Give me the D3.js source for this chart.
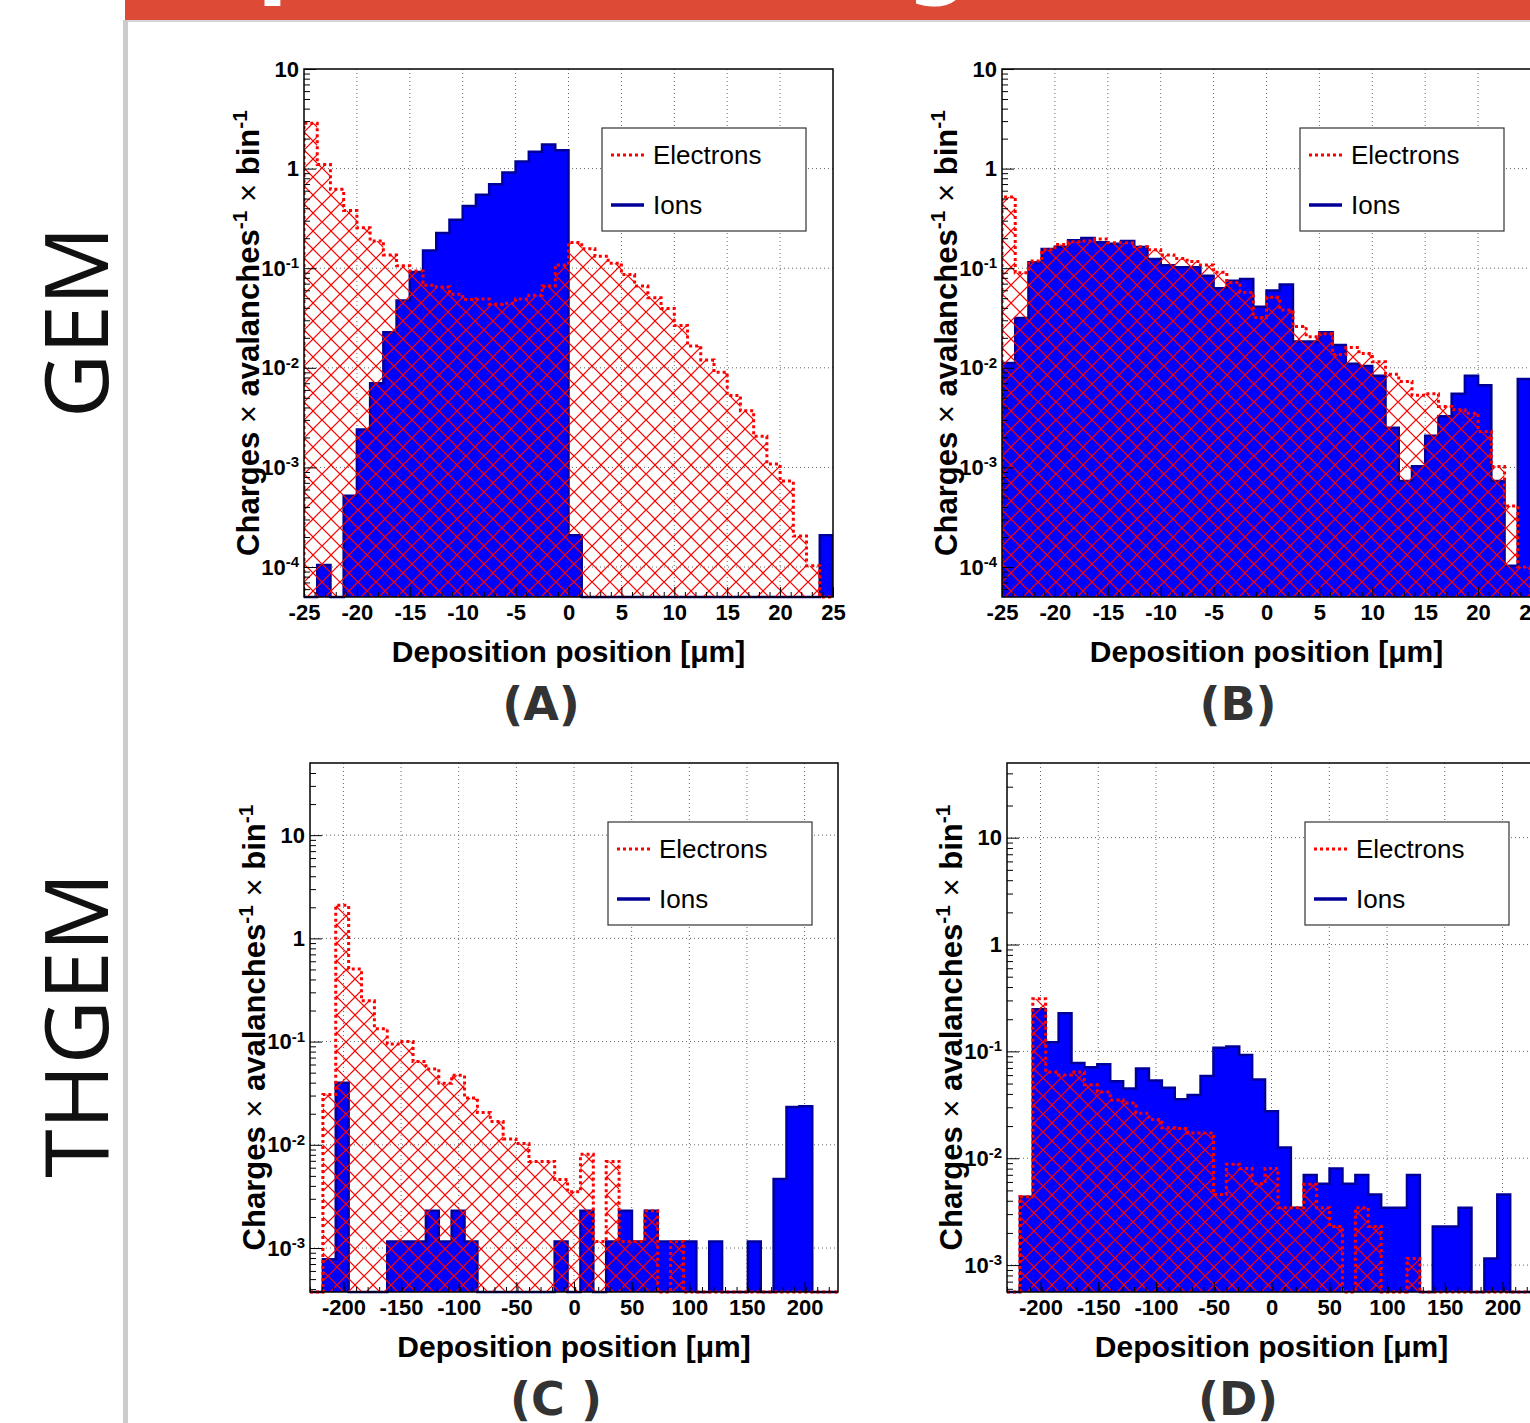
<!DOCTYPE html>
<html>
<head>
<meta charset="utf-8">
<script src="https://cdn.jsdelivr.net/npm/d3@7"></script>
<style>
  body { margin: 0; background: #fff; }
  svg { display: block; }
</style>
</head>
<body>
<div id="chart"></div>
<script>
// axis ranges and ticks
const gemRange = [-25, 25];
const thgemRange = [-229, 229];
const gemXTicks = [-25, -20, -15, -10, -5, 0, 5, 10, 15, 20, 25];
const thgemXTicks = [-200, -150, -100, -50, 0, 50, 100, 150, 200];
const gemYRange = [5e-5, 10];
const thgemCYRange = [3.75e-4, 50];
const thgemDYRange = [5.6e-4, 50];
const gemDecades = [-4, -3, -2, -1, 0, 1];
const thgemDecades = [-3, -2, -1, 0, 1];
const legendLabels = ["Electrons", "Ions"];

// (A) GEM, 40 bins
const ionsA = [0, 1.05e-4, 0, 5.2e-4, 2.4e-3, 7.0e-3, 0.0228, 0.0473, 0.0914, 0.151,
  0.226, 0.306, 0.422, 0.545, 0.697, 0.914, 1.18, 1.48, 1.75, 1.53,
  2.08e-4, 0, 0, 0, 0, 0, 0, 0, 0, 0,
  0, 0, 0, 0, 0, 0, 0, 0, 0, 2.08e-4];
const electronsA = [2.85, 1.10, 0.62, 0.379, 0.255, 0.188, 0.136, 0.106, 0.0936, 0.0674,
  0.0647, 0.0549, 0.0485, 0.0492, 0.0435, 0.0446, 0.0492, 0.0536, 0.0663, 0.1077,
  0.181, 0.157, 0.132, 0.112, 0.0863, 0.0663, 0.0506, 0.0395, 0.0266, 0.0166,
  0.012, 0.009, 0.00526, 0.0037, 0.00205, 0.00108, 7.3e-4, 2.05e-4, 1.03e-4, 0];

// (B) GEM, 40 bins
const ionsB = [0.0112, 0.0316, 0.115, 0.156, 0.164, 0.191, 0.201, 0.182, 0.176, 0.188,
  0.163, 0.124, 0.107, 0.102, 0.102, 0.084, 0.063, 0.075, 0.078, 0.041,
  0.0596, 0.0685, 0.0184, 0.0184, 0.0228, 0.0169, 0.011, 0.0104, 0.0083, 0.0025,
  7.3e-4, 1.03e-3, 2.08e-3, 3.27e-3, 5.5e-3, 8.3e-3, 6.7e-3, 7.3e-4, 1.03e-4, 7.7e-3];
const electronsB = [0.518, 0.09, 0.118, 0.153, 0.173, 0.184, 0.188, 0.196, 0.18, 0.18,
  0.164, 0.153, 0.136, 0.125, 0.117, 0.108, 0.091, 0.072, 0.057, 0.032,
  0.051, 0.038, 0.026, 0.0205, 0.022, 0.0136, 0.016, 0.0139, 0.0115, 0.0086,
  0.0073, 0.0053, 0.0055, 0.0041, 0.0038, 0.0035, 0.0023, 0.00102, 4.1e-4, 1.0e-4];

// (C) THGEM, 41 bins
const ionsC = [0, 7.8e-4, 0.04, 0, 0, 0, 0.00116, 0.00116, 0.00116, 0.0023,
  0.00116, 0.0023, 0.00116, 0, 0, 0, 0, 0, 0, 0.00116,
  0, 0.0023, 0, 0.00116, 0.0023, 0.00116, 0.0023, 0.00116, 0.00116, 0.00116,
  0, 0.00116, 0, 0, 0.00116, 0, 0.00467, 0.0232, 0.0236, 0, 0];
const electronsC = [0, 0.0308, 2.09, 0.506, 0.248, 0.133, 0.095, 0.1, 0.064, 0.0544,
  0.0394, 0.0471, 0.0284, 0.0206, 0.0168, 0.0114, 0.0103, 0.0069, 0.0069, 0.0046,
  0.0035, 0.0081, 0.00116, 0.0069, 0.00116, 0.00116, 0.0023, 0, 0.00116, 0,
  0, 0, 0, 0, 0, 0, 0, 0, 0, 0, 0];

// (D) THGEM, 41 bins
const ionsD = [0, 4.35e-3, 0.248, 0.122, 0.228, 0.078, 0.071, 0.076, 0.0526, 0.045,
  0.069, 0.0534, 0.0457, 0.0356, 0.039, 0.0588, 0.108, 0.111, 0.0925, 0.0547,
  0.0275, 0.0126, 3.44e-3, 6.98e-3, 5.78e-3, 8.03e-3, 5.78e-3, 6.98e-3, 4.57e-3, 3.44e-3,
  3.44e-3, 6.98e-3, 0, 2.3e-3, 2.3e-3, 3.44e-3, 0, 1.15e-3, 4.57e-3, 0, 0];
const electronsD = [0, 4.35e-3, 0.311, 0.064, 0.060, 0.064, 0.0486, 0.0416, 0.035, 0.0329,
  0.0264, 0.0231, 0.0193, 0.019, 0.0172, 0.0172, 4.57e-3, 8.8e-3, 8.0e-3, 5.78e-3,
  8.0e-3, 3.44e-3, 3.44e-3, 5.7e-3, 3.44e-3, 2.3e-3, 0, 3.44e-3, 2.3e-3, 0,
  0, 1.15e-3, 0, 0, 0, 0, 0, 0, 0, 0, 0];

const W = 1530, H = 1423;
const FONT = "'Liberation Sans', Arial, Helvetica, sans-serif";

const svg = d3.select("#chart").append("svg")
  .attr("width", W)
  .attr("height", H);

// cross hatch: diamond through the tile's edge midpoints, so it tiles without corner gaps
const defs = svg.append("defs");
defs.append("pattern")
  .attr("id", "hatch")
  .attr("patternUnits", "userSpaceOnUse")
  .attr("width", 18)
  .attr("height", 18)
  .append("path")
  .attr("d", "M0,9L9,18M9,0L18,9M0,9L9,0M9,18L18,9")
  .attr("stroke", "#ff0000")
  .attr("stroke-width", 1.2)
  .attr("fill", "none");

// slide decoration: red title band and grey border
svg.append("rect").attr("x", 125).attr("y", 0).attr("width", W - 125).attr("height", 20).attr("fill", "#dd4b36");
svg.append("rect").attr("x", 125).attr("y", 20).attr("width", W - 125).attr("height", 2).attr("fill", "#d4d4d8");
svg.append("rect").attr("x", 123).attr("y", 20).attr("width", 5).attr("height", H - 20).attr("fill", "#cccccc");
// descenders of the (cropped) slide title
svg.append("text").attr("x", 257).attr("y", -13).text("p")
  .style("font-family", "'DejaVu Sans'").style("font-weight", "bold").style("font-size", "90px").attr("fill", "#fff");
svg.append("text").attr("x", 906).attr("y", -13).text("g")
  .style("font-family", "'DejaVu Sans'").style("font-weight", "bold").style("font-size", "90px").attr("fill", "#fff");

// row labels
[["GEM", 322], ["THGEM", 1025]].forEach(([t, cy]) => {
  svg.append("text")
    .attr("transform", `translate(108, ${cy}) rotate(-90)`)
    .attr("text-anchor", "middle")
    .style("font-family", "'Open Sans', sans-serif")
    .style("font-size", "88px")
    .attr("fill", "#111")
    .text(t);
});

const panels = [
  { x: 304, y: 69, w: 529, h: 528, xr: gemRange, yr: gemYRange, xt: gemXTicks, minor: 1, dec: gemDecades,
    ions: ionsA, el: electronsA, label: "(A)", lx: 541, ly: 720 },
  { x: 1002, y: 69, w: 529, h: 528, xr: gemRange, yr: gemYRange, xt: gemXTicks, minor: 1, dec: gemDecades,
    ions: ionsB, el: electronsB, label: "(B)", lx: 1238, ly: 720 },
  { x: 310, y: 763, w: 528, h: 529, xr: thgemRange, yr: thgemCYRange, xt: thgemXTicks, minor: 10, dec: thgemDecades,
    ions: ionsC, el: electronsC, label: "(C )", lx: 556, ly: 1415 },
  { x: 1007, y: 763, w: 529, h: 529, xr: thgemRange, yr: thgemDYRange, xt: thgemXTicks, minor: 10, dec: thgemDecades,
    ions: ionsD, el: electronsD, label: "(D)", lx: 1238, ly: 1415 }
];

const stepPath = (vals, x, y, edges, close) => {
  const base = y.range()[0];
  let p = `M${x(edges[0])},${base}`;
  vals.forEach((v, i) => {
    const yy = v > 0 ? y(v) : base;
    p += `L${x(edges[i])},${yy}L${x(edges[i + 1])},${yy}`;
  });
  p += `L${x(edges[vals.length])},${base}`;
  return close ? p + "Z" : p;
};

panels.forEach((p, pi) => {
  const g = svg.append("g").attr("transform", `translate(${p.x},${p.y})`);
  const x = d3.scaleLinear().domain(p.xr).range([0, p.w]);
  const y = d3.scaleLog().domain(p.yr).range([p.h, 0]);
  const n = p.ions.length;
  const edges = d3.range(n + 1).map(i => p.xr[0] + i * (p.xr[1] - p.xr[0]) / n);

  defs.append("clipPath").attr("id", "clip" + pi)
    .append("rect").attr("x", 0).attr("y", 0).attr("width", p.w).attr("height", p.h + 2);

  // grid
  const decVals = p.dec.map(d => Math.pow(10, d));
  const grid = g.append("g").attr("stroke", "#666").attr("stroke-width", 1).attr("stroke-dasharray", "1,3");
  grid.selectAll(".gx").data(p.xt.filter(t => t > p.xr[0] && t < p.xr[1])).enter().append("line")
    .attr("x1", d => x(d)).attr("x2", d => x(d)).attr("y1", 0).attr("y2", p.h);
  grid.selectAll(".gy").data(decVals.filter(v => v < p.yr[1])).enter().append("line")
    .attr("x1", 0).attr("x2", p.w).attr("y1", d => y(d)).attr("y2", d => y(d));

  const hist = g.append("g").attr("clip-path", `url(#clip${pi})`);
  hist.append("path").attr("d", stepPath(p.ions, x, y, edges, true)).attr("fill", "#0000ff").attr("stroke", "none");
  hist.append("path").attr("d", stepPath(p.ions, x, y, edges, false))
    .attr("fill", "none").attr("stroke", "#000099").attr("stroke-width", 2.5);
  hist.append("path").attr("d", stepPath(p.el, x, y, edges, true)).attr("fill", "url(#hatch)").attr("stroke", "none");
  hist.append("path").attr("d", stepPath(p.el, x, y, edges, false))
    .attr("fill", "none").attr("stroke", "#ff0000").attr("stroke-width", 3).attr("stroke-dasharray", "3,3");

  // frame
  g.append("rect").attr("width", p.w).attr("height", p.h)
    .attr("fill", "none").attr("stroke", "#000").attr("stroke-width", 1.5);

  // x axis
  const minorX = d3.range(p.xr[0], p.xr[1] + 0.001, p.minor).filter(v => !p.xt.includes(v));
  g.append("g").attr("transform", `translate(0,${p.h})`)
    .call(d3.axisBottom(x).tickValues(minorX).tickSize(-5).tickFormat(""))
    .call(a => a.select(".domain").remove());
  const ax = g.append("g").attr("transform", `translate(0,${p.h})`)
    .call(d3.axisBottom(x).tickValues(p.xt).tickSize(-10).tickPadding(7).tickFormat(d => String(d)));
  ax.select(".domain").remove();
  ax.selectAll("text").style("font-family", FONT).style("font-weight", "bold").style("font-size", "22px").attr("fill", "#000");

  // y axis
  const minorY = [];
  d3.range(p.dec[0] - 1, p.dec[p.dec.length - 1] + 1).forEach(d => {
    for (let k = 2; k <= 9; k++) {
      const v = k * Math.pow(10, d);
      if (v > p.yr[0] && v < p.yr[1]) minorY.push(v);
    }
  });
  g.append("g")
    .call(d3.axisLeft(y).tickValues(minorY).tickSize(-6).tickFormat(""))
    .call(a => a.select(".domain").remove());
  const ay = g.append("g")
    .call(d3.axisLeft(y).tickValues(decVals).tickSize(-12).tickPadding(5));
  ay.select(".domain").remove();
  ay.selectAll("text").each(function (v) {
    const t = d3.select(this).text(null)
      .style("font-family", FONT).style("font-weight", "bold").style("font-size", "22px").attr("fill", "#000");
    const d = Math.round(Math.log10(v));
    if (d === 0) t.append("tspan").text("1");
    else if (d === 1) t.append("tspan").text("10");
    else {
      t.append("tspan").text("10");
      t.append("tspan").attr("dy", "-0.5em").style("font-size", "15px").text(String(d));
    }
  });

  // axis titles
  g.append("text")
    .attr("x", p.w / 2).attr("y", p.h + 65)
    .attr("text-anchor", "middle")
    .style("font-family", FONT).style("font-weight", "bold").style("font-size", "30px")
    .text("Deposition position [\u03bcm]");
  const yt = g.append("text")
    .attr("transform", `translate(-45,${p.h / 2}) rotate(-90)`)
    .attr("text-anchor", "middle")
    .style("font-family", FONT).style("font-weight", "bold").style("font-size", "31px");
  yt.append("tspan").text("Charges");
  yt.append("tspan").style("font-weight", "normal").text(" \u00d7 ");
  yt.append("tspan").text("avalanches");
  yt.append("tspan").attr("dy", -12).style("font-size", "21px").text("-1");
  yt.append("tspan").attr("dy", 12).style("font-weight", "normal").text(" \u00d7 ");
  yt.append("tspan").text("bin");
  yt.append("tspan").attr("dy", -12).style("font-size", "21px").text("-1");

  // legend
  const lg = g.append("g").attr("transform", "translate(298,59)");
  lg.append("rect").attr("width", 204).attr("height", 103)
    .attr("fill", "#fff").attr("stroke", "#333").attr("stroke-width", 1.2);
  legendLabels.forEach((lab, i) => {
    const ly = 27 + i * 50;
    lg.append("line").attr("x1", 9).attr("x2", 42).attr("y1", ly).attr("y2", ly)
      .attr("stroke", i === 0 ? "#ff0000" : "#000099")
      .attr("stroke-width", i === 0 ? 3 : 3.5)
      .attr("stroke-dasharray", i === 0 ? "3,3" : null);
    lg.append("text").attr("x", 51).attr("y", ly).attr("dy", "0.35em")
      .style("font-family", FONT).style("font-size", "26px").text(lab);
  });

  // panel label
  svg.append("text")
    .attr("x", p.lx).attr("y", p.ly)
    .attr("text-anchor", "middle")
    .style("font-family", "'DejaVu Sans', sans-serif").style("font-weight", "bold").style("font-size", "46px")
    .attr("fill", "#333")
    .text(p.label);
});
</script>
</body>
</html>
